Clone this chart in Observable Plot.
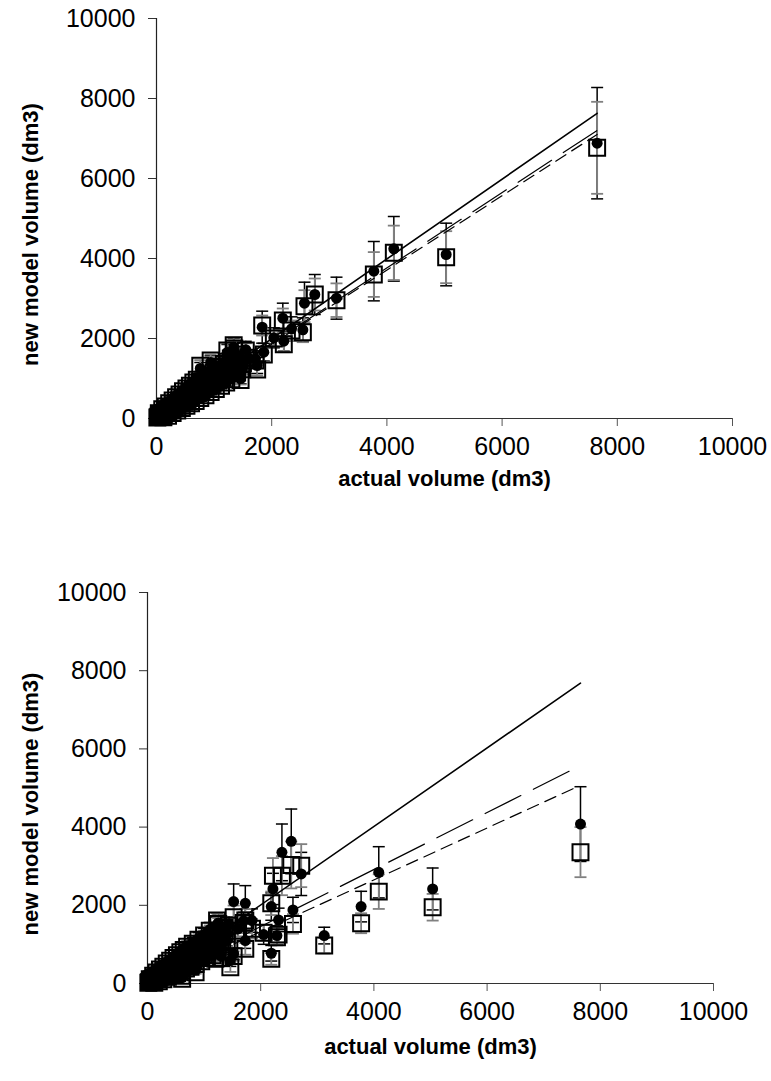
<!DOCTYPE html>
<html>
<head>
<meta charset="utf-8">
<script src="https://cdn.jsdelivr.net/npm/d3@7"></script>
<script src="https://cdn.jsdelivr.net/npm/@observablehq/plot@0.6"></script>
<style>
  html, body { margin: 0; padding: 0; background: white; }
  #chart svg { display: block; }
</style>
</head>
<body>
<div id="chart"></div>
<script>
// axis ticks
const xTicks = [0, 2000, 4000, 6000, 8000, 10000];
const yTicks = [0, 2000, 4000, 6000, 8000, 10000];
const xLabel = "actual volume (dm3)";
const yLabel = "new model volume (dm3)";

// top panel points: [actual, circle value, circle error, square value, square error]
const topPoints = [
  [15, 40, 8, 25, 5], [30, 20, 5, 45, 6], [45, 80, 10, 60, 8], [60, 50, 8, 90, 10],
  [75, 130, 15, 110, 12], [90, 70, 10, 60, 8], [110, 160, 20, 140, 15], [130, 100, 15, 120, 14],
  [150, 210, 25, 190, 20], [170, 140, 18, 160, 18], [190, 250, 30, 230, 25], [210, 170, 20, 200, 20],
  [235, 300, 35, 280, 30], [260, 210, 25, 240, 25], [285, 360, 40, 330, 35], [310, 250, 30, 280, 30],
  [335, 410, 45, 390, 40], [360, 300, 35, 320, 35], [390, 470, 55, 450, 45], [420, 340, 40, 370, 40],
  [450, 540, 60, 510, 50], [480, 390, 45, 420, 45], [510, 600, 70, 580, 60], [540, 450, 50, 470, 50],
  [570, 680, 80, 650, 65], [600, 500, 60, 530, 55], [630, 750, 90, 720, 75], [660, 560, 65, 590, 60],
  [690, 820, 95, 790, 80], [720, 610, 70, 640, 65], [750, 890, 100, 860, 90], [780, 670, 80, 700, 70],
  [810, 960, 110, 930, 95], [840, 730, 85, 750, 75], [870, 1040, 120, 1010, 100], [900, 780, 90, 800, 80],
  [930, 1100, 130, 1080, 110], [960, 830, 95, 860, 90], [990, 1180, 140, 1150, 120], [1020, 880, 100, 910, 95],
  [1050, 1250, 150, 1220, 130], [1080, 940, 110, 960, 100], [1110, 1320, 160, 1300, 140], [1140, 990, 120, 1020, 105],
  [1170, 1380, 170, 1360, 150], [1200, 1060, 130, 1080, 110], [1230, 1450, 180, 1420, 160], [1260, 1110, 130, 1140, 120],
  [1290, 1520, 190, 1500, 170], [1320, 1170, 140, 1190, 125], [1350, 1680, 200, 1750, 180], [1380, 1240, 150, 1260, 130],
  [1420, 1560, 190, 1600, 170], [1460, 1000, 130, 960, 110], [1500, 1400, 170, 1380, 150], [1550, 1720, 210, 1700, 180],
  [1600, 1500, 180, 1520, 160], [760, 1250, 150, 1320, 140], [940, 1400, 170, 1450, 150], [1230, 1650, 200, 1700, 180],
  [1340, 1780, 220, 1830, 190],
  [40, 150, 20, 130, 15], [100, 250, 30, 230, 25], [160, 330, 40, 300, 30], [220, 400, 45, 380, 40],
  [280, 480, 55, 450, 45], [340, 560, 65, 530, 55], [400, 620, 70, 600, 60], [460, 700, 80, 680, 70],
  [520, 780, 90, 750, 75], [580, 850, 100, 820, 80], [640, 920, 105, 900, 90], [700, 1000, 115, 970, 95],
  [120, 40, 8, 30, 6], [200, 90, 12, 70, 10], [280, 160, 20, 140, 15], [360, 220, 25, 200, 20],
  [440, 280, 35, 260, 30], [520, 340, 40, 320, 35], [600, 400, 50, 380, 40], [680, 460, 55, 440, 45],
  [760, 530, 60, 510, 50], [850, 600, 70, 580, 60], [940, 680, 80, 660, 65], [1030, 760, 90, 740, 75],
  [1120, 850, 100, 820, 80], [1210, 920, 110, 900, 90], [1300, 1000, 120, 980, 100], [1400, 1180, 140, 1150, 115],
  [1490, 1250, 150, 1230, 120],
  [50, 70, 10, 60, 8], [100, 120, 15, 110, 12], [150, 160, 20, 170, 18], [200, 220, 25, 210, 22],
  [250, 270, 30, 260, 26], [300, 320, 35, 310, 30], [350, 370, 42, 360, 36], [400, 420, 48, 410, 40],
  [450, 470, 55, 460, 46], [500, 530, 60, 520, 50], [550, 580, 66, 570, 56], [600, 640, 72, 620, 62],
  [650, 690, 78, 670, 66], [700, 740, 85, 720, 72], [750, 790, 90, 770, 76], [800, 850, 96, 830, 82],
  [850, 900, 100, 880, 88], [900, 950, 108, 930, 92], [950, 1010, 115, 990, 98], [1000, 1060, 120, 1040, 104],
  [1060, 1120, 128, 1100, 110], [1120, 1180, 135, 1160, 116], [1180, 1240, 142, 1220, 122], [1240, 1300, 150, 1280, 128],
  [1300, 1360, 156, 1340, 134], [1360, 1420, 162, 1400, 140], [1430, 1480, 170, 1460, 146],
  [1719, 1492, 200, 1450, 150], [1748, 1325, 200, 1225, 150], [1863, 1658, 220, 1600, 180], [2210, 1933, 250, 1858, 200],
  [2037, 2017, 250, 2000, 200], [2344, 2242, 300, 2200, 250], [2541, 2217, 300, 2158, 250], [1835, 2283, 400, 2325, 250],
  [2193, 2508, 375, 2450, 300], [2569, 2883, 525, 2808, 400], [2748, 3100, 500, 3100, 400], [3125, 3008, 525, 2958, 420],
  [3773, 3683, 742, 3600, 560], [4120, 4242, 808, 4142, 680], [5029, 4100, 783, 4033, 650], [7650, 6883, 1392, 6767, 1150]
];

// bottom panel points: [actual, circle value, circle error, square value, square error]
const bottomPoints = [
  [15, 30, 6, 20, 5], [30, 60, 8, 40, 6], [45, 40, 6, 70, 8], [60, 90, 10, 60, 8],
  [75, 60, 8, 100, 10], [90, 130, 15, 110, 12], [110, 90, 12, 80, 10], [130, 170, 20, 150, 15],
  [150, 120, 15, 140, 15], [170, 200, 25, 180, 20], [190, 150, 20, 130, 15], [210, 250, 30, 230, 25],
  [235, 190, 25, 170, 20], [260, 300, 35, 280, 30], [285, 230, 30, 210, 25], [310, 350, 40, 330, 35],
  [335, 270, 35, 250, 30], [360, 400, 50, 380, 40], [390, 310, 40, 280, 30], [420, 460, 55, 440, 45],
  [450, 360, 45, 330, 35], [480, 520, 65, 500, 50], [510, 400, 50, 370, 40], [540, 580, 70, 560, 55],
  [570, 450, 55, 420, 45], [600, 640, 80, 610, 60], [630, 500, 60, 460, 50], [660, 700, 85, 680, 65],
  [690, 540, 65, 500, 50], [720, 770, 95, 740, 75], [750, 600, 75, 560, 55], [780, 840, 100, 800, 80],
  [810, 640, 80, 600, 60], [840, 900, 110, 870, 85], [870, 690, 85, 650, 65], [900, 960, 120, 930, 90],
  [930, 740, 90, 700, 70], [960, 1020, 130, 1000, 100], [990, 790, 95, 750, 75], [1020, 1080, 140, 1050, 105],
  [1050, 850, 105, 800, 80], [1080, 1150, 150, 1120, 110], [1110, 900, 110, 860, 85], [1140, 1220, 160, 1190, 120],
  [1170, 950, 120, 900, 90], [1200, 1300, 170, 1250, 125], [1240, 1000, 125, 950, 95], [1280, 1380, 180, 1350, 135],
  [1320, 1050, 130, 1000, 100], [1360, 1450, 190, 1420, 140], [1400, 1100, 140, 1050, 105], [1440, 1500, 200, 1480, 150],
  [40, 130, 15, 110, 12], [100, 220, 25, 200, 20], [160, 300, 35, 280, 30], [220, 380, 45, 360, 35],
  [280, 450, 55, 430, 45], [340, 530, 65, 510, 50], [400, 600, 70, 580, 60], [460, 680, 80, 650, 65],
  [520, 750, 90, 720, 70], [580, 820, 100, 800, 80], [640, 890, 110, 860, 85], [700, 960, 120, 940, 95],
  [800, 1050, 130, 1020, 100], [900, 1150, 150, 1120, 110], [1000, 1250, 160, 1230, 120], [1100, 1380, 180, 1350, 135],
  [1250, 1550, 200, 1520, 150],
  [120, 30, 5, 20, 5], [200, 80, 10, 60, 8], [280, 130, 15, 110, 12], [360, 190, 25, 170, 20],
  [440, 240, 30, 220, 25], [520, 290, 35, 270, 30], [600, 350, 45, 330, 35], [680, 400, 50, 380, 40],
  [760, 450, 55, 430, 45], [850, 520, 65, 500, 50], [950, 600, 75, 570, 60], [1050, 680, 85, 650, 65],
  [1150, 750, 95, 720, 75], [1300, 700, 100, 650, 80], [1400, 1300, 170, 1270, 130], [1600, 1400, 200, 1350, 150],
  [1700, 1600, 220, 1550, 160],
  [50, 55, 8, 50, 6], [100, 100, 12, 95, 10], [150, 150, 18, 145, 15], [200, 195, 24, 190, 20],
  [250, 240, 30, 235, 25], [300, 290, 35, 285, 30], [350, 335, 40, 330, 34], [400, 385, 46, 375, 38],
  [450, 430, 52, 420, 42], [500, 480, 58, 470, 48], [550, 525, 63, 515, 52], [600, 575, 69, 565, 57],
  [650, 620, 74, 610, 61], [700, 670, 80, 660, 66], [750, 715, 86, 705, 71], [800, 765, 92, 750, 75],
  [850, 810, 97, 800, 80], [900, 860, 103, 845, 85], [950, 905, 109, 890, 89], [1000, 955, 115, 940, 94],
  [1060, 1010, 121, 995, 100], [1120, 1070, 128, 1050, 105], [1180, 1125, 135, 1110, 111], [1240, 1180, 142, 1165, 117],
  [1300, 1240, 149, 1220, 122], [1360, 1295, 155, 1280, 128],
  [600, 250, 40, 200, 30], [850, 350, 50, 290, 40], [612, 150, 30, 120, 25], [1287, 900, 130, 843, 100],
  [1229, 1500, 200, 1609, 180], [1199, 800, 150, 630, 120], [1522, 758, 150, 700, 120], [1464, 587, 150, 417, 120],
  [1728, 1098, 200, 886, 150], [2187, 774, 200, 630, 150], [2287, 1226, 250, 1183, 200], [2316, 1627, 300, 1250, 200],
  [2052, 1252, 250, 1300, 200], [1846, 1609, 300, 1400, 250], [1728, 2051, 452, 1609, 300], [1522, 2094, 452, 1694, 300],
  [2570, 1882, 323, 1524, 250], [2187, 1967, 350, 2051, 300], [2216, 2418, 400, 2758, 450], [2716, 2802, 552, 3014, 550],
  [2375, 3354, 725, 2758, 500], [2540, 3635, 827, 3032, 600], [3122, 1226, 213, 971, 200], [3774, 1967, 391, 1541, 255],
  [4086, 2844, 655, 2350, 443], [5038, 2418, 536, 1950, 341], [7650, 4077, 956, 3359, 640]
];

// fitted lines: [actual, predicted]
const topSolid = [[0, 0], [7650, 7630]];
const topLongDash = [[0, 0], [7650, 7200]];
const topShortDash = [[0, 0], [7650, 7100]];
const bottomSolid = [[0, 0], [7650, 7680]];
const bottomLongDash = [[0, 0], [7520, 5480]];
const bottomShortDash = [[0, 0], [7560, 5010]];

const capSymbol = { draw(ctx) { ctx.moveTo(-6, 0); ctx.lineTo(6, 0); } };
const GRAY = "#808080";

function panel(points, lines, m) {
  const rows = points.map(([x, c, ce, s, se]) => ({x, c, ce, s, se}));
  const lineRows = (arr) => arr.map(([x, y]) => ({x, y}));
  return Plot.plot({
    width: 771,
    height: m.height,
    marginLeft: m.left, marginRight: m.right, marginTop: m.top, marginBottom: m.bottom,
    style: {fontFamily: "'Liberation Sans', Arial, sans-serif", fontSize: "25px", color: "black", background: "white", overflow: "visible"},
    x: {domain: [0, 10000]},
    y: {domain: [0, 10000]},
    marks: [
      Plot.axisX({ticks: xTicks, tickSize: 8, tickPadding: 11, tickFormat: d3.format("d"), label: null, stroke: "#555", fontSize: 25}),
      Plot.axisY({ticks: yTicks, tickSize: 8, tickPadding: 13, tickFormat: d3.format("d"), label: null, stroke: "#333", fontSize: 25}),
      Plot.ruleY([0], {stroke: "#333", strokeWidth: 1.2}),
      Plot.ruleX([0], {stroke: "#222", strokeWidth: 1.2}),
      // circle error bars (black)
      Plot.ruleX(rows, {x: "x", y1: d => d.c - d.ce, y2: d => d.c + d.ce, stroke: "black", strokeWidth: 1.5}),
      Plot.dot(rows, {x: "x", y: d => d.c + d.ce, symbol: capSymbol, fill: "none", stroke: "black", strokeWidth: 1.5}),
      Plot.dot(rows, {x: "x", y: d => d.c - d.ce, symbol: capSymbol, fill: "none", stroke: "black", strokeWidth: 1.5}),
      // square error bars (gray)
      Plot.ruleX(rows, {x: "x", y1: d => d.s - d.se, y2: d => d.s + d.se, stroke: GRAY, strokeWidth: 1.8}),
      Plot.dot(rows, {x: "x", y: d => d.s + d.se, symbol: capSymbol, fill: "none", stroke: GRAY, strokeWidth: 1.8}),
      Plot.dot(rows, {x: "x", y: d => d.s - d.se, symbol: capSymbol, fill: "none", stroke: GRAY, strokeWidth: 1.8}),
      // squares and circles
      Plot.dot(rows, {x: "x", y: "s", symbol: "square", r: 9, fill: "none", stroke: "black", strokeWidth: 2}),
      Plot.dot(rows, {x: "x", y: "c", r: 5.5, fill: "black", stroke: "none"}),
      // lines
      Plot.line(lineRows(lines.solid), {x: "x", y: "y", stroke: "black", strokeWidth: 1.6}),
      Plot.line(lineRows(lines.longDash), {x: "x", y: "y", stroke: "black", strokeWidth: 1.2, strokeDasharray: "40,14"}),
      Plot.line(lineRows(lines.shortDash), {x: "x", y: "y", stroke: "black", strokeWidth: 1.2, strokeDasharray: "12,7"}),
      // axis labels
      Plot.text([xLabel], {text: d => d, frameAnchor: "bottom", dy: m.xLabelDy, fontWeight: "bold", fontSize: 22, lineAnchor: "middle"}),
      Plot.text([yLabel], {text: d => d, frameAnchor: "left", dx: m.yLabelDx, dy: 16, rotate: -90, textAnchor: "middle", lineAnchor: "middle", fontWeight: "bold", fontSize: 22})
    ]
  });
}

const chart = document.getElementById("chart");
chart.appendChild(panel(topPoints, {solid: topSolid, longDash: topLongDash, shortDash: topShortDash},
  {height: 540, left: 156, right: 39, top: 18, bottom: 122, xLabelDy: 60, yLabelDx: -126}));
chart.appendChild(panel(bottomPoints, {solid: bottomSolid, longDash: bottomLongDash, shortDash: bottomShortDash},
  {height: 541, left: 147, right: 58, top: 52, bottom: 98, xLabelDy: 63, yLabelDx: -117}));
</script>
</body>
</html>
